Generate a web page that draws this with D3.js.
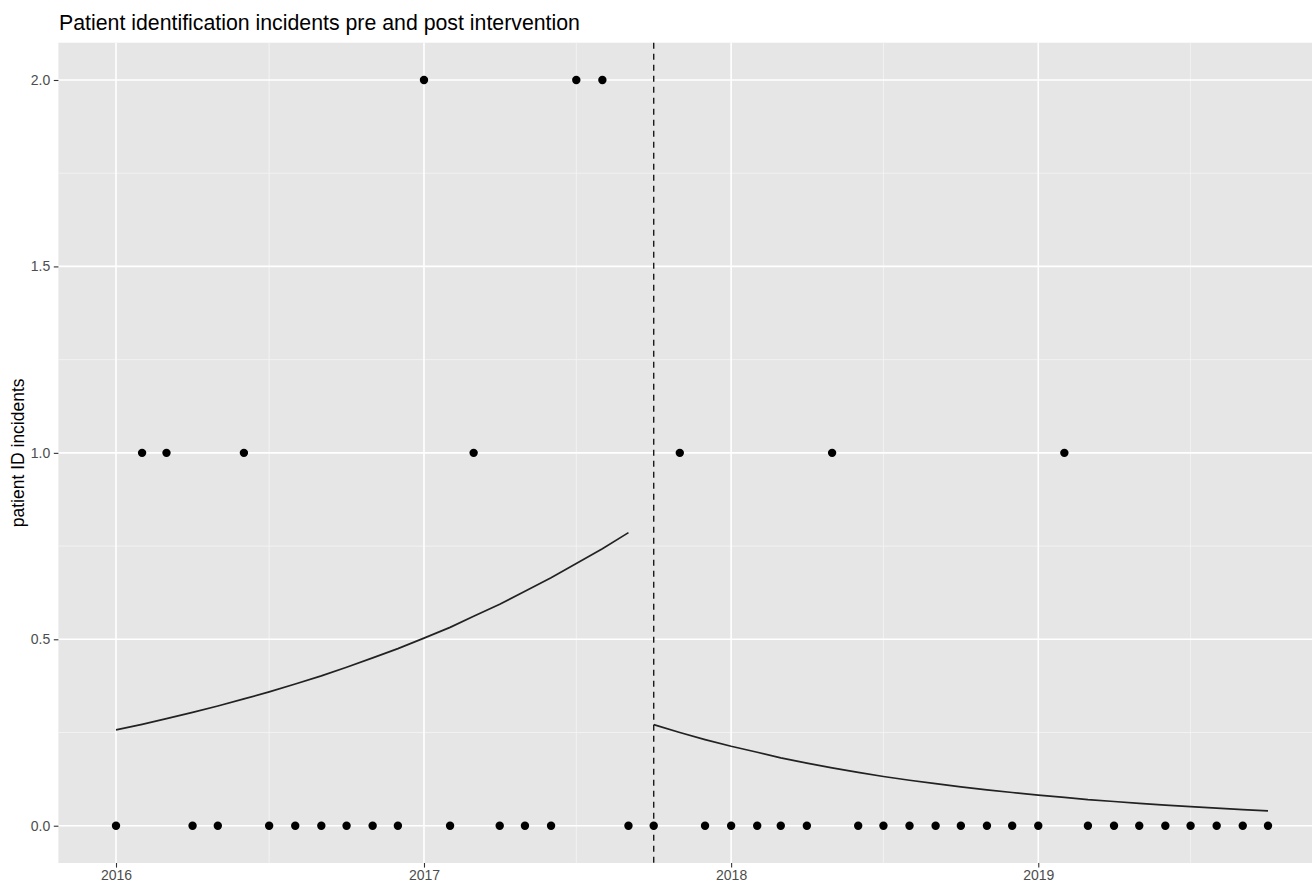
<!DOCTYPE html>
<html>
<head>
<meta charset="utf-8">
<script src="https://cdn.jsdelivr.net/npm/d3@7"></script>
<style>
  html, body { margin: 0; padding: 0; background: #ffffff; }
  svg { display: block; font-family: "Liberation Sans", Arial, Helvetica, sans-serif; }
</style>
</head>
<body>
<svg id="chart" width="1312" height="882"></svg>
<script>
// Monthly incident counts, Jan 2016 – Oct 2019
const months = [
  "2016-01","2016-02","2016-03","2016-04","2016-05","2016-06","2016-07","2016-08","2016-09","2016-10","2016-11","2016-12",
  "2017-01","2017-02","2017-03","2017-04","2017-05","2017-06","2017-07","2017-08","2017-09","2017-10","2017-11","2017-12",
  "2018-01","2018-02","2018-03","2018-04","2018-05","2018-06","2018-07","2018-08","2018-09","2018-10","2018-11","2018-12",
  "2019-01","2019-02","2019-03","2019-04","2019-05","2019-06","2019-07","2019-08","2019-09","2019-10"
];
const incidents = [
  0,1,1,0,0,1,0,0,0,0,0,0,
  2,0,1,0,0,0,2,2,0,0,1,0,
  0,0,0,0,1,0,0,0,0,0,0,0,
  0,1,0,0,0,0,0,0,0,0
];

// Fitted trend, pre-intervention (Jan 2016 – Sep 2017)
const preMonths = months.slice(0, 21);
const preFit = [
  0.257,0.272,0.287,0.304,0.321,0.340,0.359,0.380,0.402,0.425,0.450,0.475,
  0.503,0.532,0.562,0.594,0.629,0.665,0.703,0.743,0.786
];
// Fitted trend, post-intervention (Oct 2017 – Oct 2019)
const postMonths = months.slice(21);
const postFit = [
  0.271,0.250,0.231,0.213,0.197,0.182,0.168,0.155,0.143,0.132,0.122,0.113,
  0.104,0.096,0.089,0.082,0.076,0.070,0.065,0.060,0.055,0.051,0.047,0.043,0.040
];

const interventionDate = "2017-10";
const yTicks = [0, 0.5, 1, 1.5, 2];
const yMinor = [0.25, 0.75, 1.25, 1.75];
const xTicks = ["2016-01","2017-01","2018-01","2019-01"];
const xMinor = ["2016-07","2017-07","2018-07","2019-07"];

const titleText = "Patient identification incidents pre and post intervention";
const yLabel = "patient ID incidents";

const parse = d3.timeParse("%Y-%m");
const svg = d3.select("#chart");

// Panel geometry
const panel = { left: 58.4, right: 1325.6, top: 42.7, bottom: 863 };

const t0 = parse(months[0]), t1 = parse(months[months.length - 1]);
const span = t1 - t0;
const x = d3.scaleTime()
  .domain([new Date(+t0 - span * 0.05), new Date(+t1 + span * 0.05)])
  .range([panel.left, panel.right]);
const y = d3.scaleLinear()
  .domain([-0.1, 2.1])
  .range([panel.bottom, panel.top]);

// Panel background
svg.append("rect")
  .attr("x", panel.left).attr("y", panel.top)
  .attr("width", panel.right - panel.left).attr("height", panel.bottom - panel.top)
  .attr("fill", "#e6e6e6");

const grid = svg.append("g");
// Minor grid lines
grid.selectAll(".ymin").data(yMinor).join("line")
  .attr("x1", panel.left).attr("x2", panel.right)
  .attr("y1", d => y(d)).attr("y2", d => y(d))
  .attr("stroke", "#f5f5f5").attr("stroke-width", 0.8);
grid.selectAll(".xmin").data(xMinor).join("line")
  .attr("y1", panel.top).attr("y2", panel.bottom)
  .attr("x1", d => x(parse(d))).attr("x2", d => x(parse(d)))
  .attr("stroke", "#f5f5f5").attr("stroke-width", 0.8);
// Major grid lines
grid.selectAll(".ymaj").data(yTicks).join("line")
  .attr("x1", panel.left).attr("x2", panel.right)
  .attr("y1", d => y(d)).attr("y2", d => y(d))
  .attr("stroke", "#ffffff").attr("stroke-width", 1.6);
grid.selectAll(".xmaj").data(xTicks).join("line")
  .attr("y1", panel.top).attr("y2", panel.bottom)
  .attr("x1", d => x(parse(d))).attr("x2", d => x(parse(d)))
  .attr("stroke", "#ffffff").attr("stroke-width", 1.6);

// Axes
const yAxis = d3.axisLeft(y).tickValues(yTicks).tickFormat(d3.format(".1f"))
  .tickSize(4.6).tickPadding(3.5);
const gy = svg.append("g").attr("transform", `translate(${panel.left},0)`).call(yAxis);
const xAxis = d3.axisBottom(x).tickValues(xTicks.map(parse)).tickFormat(d3.timeFormat("%Y"))
  .tickSize(4.6).tickPadding(2.5);
const gx = svg.append("g").attr("transform", `translate(0,${panel.bottom})`).call(xAxis);
[gx, gy].forEach(g => {
  g.select(".domain").remove();
  g.selectAll(".tick line").attr("stroke", "#333333").attr("stroke-width", 1.1);
  g.selectAll(".tick text").attr("fill", "#4d4d4d").style("font-size", "14px")
    .style("font-family", "'Liberation Sans', Arial, sans-serif");
});

// Fitted trend lines
const line = d3.line().x(d => x(parse(d[0]))).y(d => y(d[1]));
svg.append("path")
  .datum(preMonths.map((m, i) => [m, preFit[i]]))
  .attr("d", line).attr("fill", "none")
  .attr("stroke", "#222222").attr("stroke-width", 1.7);
svg.append("path")
  .datum(postMonths.map((m, i) => [m, postFit[i]]))
  .attr("d", line).attr("fill", "none")
  .attr("stroke", "#222222").attr("stroke-width", 1.7);

// Intervention marker
svg.append("line")
  .attr("x1", x(parse(interventionDate))).attr("x2", x(parse(interventionDate)))
  .attr("y1", panel.top).attr("y2", panel.bottom)
  .attr("stroke", "#1a1a1a").attr("stroke-width", 1.4)
  .attr("stroke-dasharray", "6,5");

// Observed points
svg.append("g").selectAll("circle")
  .data(months.map((m, i) => [m, incidents[i]]))
  .join("circle")
  .attr("cx", d => x(parse(d[0])))
  .attr("cy", d => y(d[1]))
  .attr("r", 4.2)
  .attr("fill", "#000000");

// Title
svg.append("text")
  .attr("x", 59).attr("y", 30)
  .attr("fill", "#000000")
  .style("font-size", "21.3px")
  .text(titleText);

// Y axis title
svg.append("text")
  .attr("transform", `translate(24,${(panel.top + panel.bottom) / 2}) rotate(-90)`)
  .attr("text-anchor", "middle")
  .attr("fill", "#000000")
  .style("font-size", "17.5px")
  .text(yLabel);
</script>
</body>
</html>
